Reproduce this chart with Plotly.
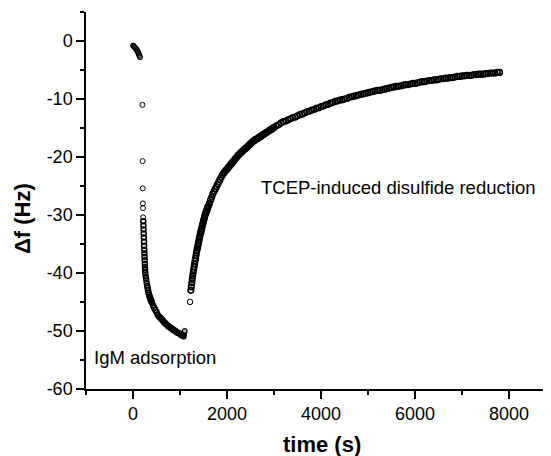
import plotly.graph_objects as go

# ---- data ----
# IgM adsorption phase (time in s, frequency shift in Hz)
ads_t = [0, 10, 20, 30, 40, 50, 60, 70, 80, 90, 100, 110, 120, 130, 140, 150,
         200, 203, 206, 209, 212, 215, 218, 221, 224, 227, 230, 233, 236, 239,
         242, 245, 248, 251, 254, 257, 260,
         270, 280, 290, 300, 310, 320, 330, 340, 350, 360, 370, 380, 390, 400,
         425, 450, 475, 500, 525, 550, 575, 600, 625, 650, 675, 700, 725, 750,
         775, 800, 825, 850, 875, 900, 925, 950, 975, 1000, 1025, 1050, 1075,
         1085, 1095, 1100]
ads_df = [-0.8, -0.8, -0.9, -1.0, -1.1, -1.2, -1.3, -1.4, -1.5, -1.7, -1.8, -2.0, -2.2, -2.4, -2.6, -2.8,
          -11.0, -20.7, -25.4, -28.0, -28.8, -30.4, -31.1, -31.8, -32.5, -33.2, -33.9, -34.6, -35.3, -36.0,
          -36.6, -37.2, -37.8, -38.4, -39.0, -39.5, -40.0,
          -40.6, -41.1, -41.7, -42.2, -42.6, -43.0, -43.4, -43.7, -44.0, -44.2, -44.5, -44.7, -44.9, -45.1,
          -45.6, -46.0, -46.4, -46.8, -47.2, -47.5, -47.7, -47.9, -48.1, -48.4, -48.6, -48.8, -49.0, -49.2,
          -49.3, -49.5, -49.6, -49.8, -49.9, -50.0, -50.2, -50.3, -50.4, -50.5, -50.7, -50.8, -50.9,
          -50.6, -50.2, -50.0]

# TCEP-induced disulfide reduction phase
red_t = [1213,
         1230, 1240, 1250, 1260, 1270, 1280, 1290, 1300, 1310, 1320, 1330, 1340, 1350,
         1360, 1370, 1380, 1390, 1400, 1410, 1420, 1430, 1440, 1450, 1460, 1470, 1480,
         1490, 1500, 1510, 1520, 1530, 1540, 1550, 1560, 1570, 1580, 1590, 1600,
         1625, 1650, 1675, 1700, 1725, 1750, 1775, 1800, 1825, 1850, 1875, 1900,
         1925, 1950, 1975, 2000, 2025, 2050, 2075, 2100, 2125, 2150, 2175, 2200, 2225,
         2250, 2275, 2300, 2325, 2350, 2375, 2400, 2425, 2450, 2475, 2500, 2525, 2550,
         2575, 2600, 2625, 2650, 2675, 2700, 2725, 2750, 2775, 2800, 2825, 2850, 2875,
         2900, 2925, 2950, 2975, 3000,
         3050, 3100, 3150, 3200, 3250, 3300, 3350, 3400, 3450, 3500, 3550, 3600, 3650, 3700,
         3750, 3800, 3850, 3900, 3950, 4000, 4050, 4100, 4150, 4200, 4250, 4300, 4350,
         4400, 4450, 4500, 4550, 4600, 4650, 4700, 4750, 4800, 4850, 4900,
         4950, 5000, 5050, 5100, 5150, 5200, 5250, 5300, 5350, 5400, 5450, 5500, 5550, 5600,
         5650, 5700, 5750, 5800, 5850, 5900, 5950, 6000, 6050, 6100, 6150, 6200, 6250, 6300,
         6350, 6400, 6450, 6500, 6550, 6600, 6650, 6700, 6750, 6800, 6850, 6900, 6950, 7000,
         7050, 7100, 7150, 7200, 7250, 7300, 7350, 7400, 7450, 7500, 7550, 7600, 7650, 7700,
         7750, 7800]
red_df = [-45.0,
          -43.0, -42.4, -41.7, -41.1, -40.5, -39.9, -39.4, -38.9, -38.4, -37.9, -37.5, -37.0, -36.5,
          -36.1, -35.7, -35.3, -34.9, -34.5, -34.1, -33.7, -33.3, -33.0, -32.7, -32.4, -32.0, -31.7,
          -31.4, -31.0, -30.7, -30.4, -30.1, -29.8, -29.6, -29.4, -29.2, -29.0, -28.7, -28.5,
          -28.0, -27.4, -26.9, -26.3, -25.9, -25.5, -25.1, -24.7, -24.3, -23.9, -23.5, -23.1,
          -22.8, -22.6, -22.3, -22.1, -21.8, -21.6, -21.3, -21.1, -20.8, -20.6, -20.3, -20.1, -19.8,
          -19.6, -19.4, -19.2, -19.0, -18.8, -18.6, -18.5, -18.3, -18.1, -17.9, -17.7, -17.5, -17.3,
          -17.2, -17.0, -16.9, -16.8, -16.6, -16.5, -16.4, -16.2, -16.1, -16.0, -15.8, -15.7, -15.6,
          -15.4, -15.3, -15.2, -15.0, -14.9,
          -14.6, -14.4, -14.1, -13.9, -13.8, -13.6, -13.4, -13.2, -13.1, -12.9, -12.7, -12.6, -12.4, -12.2,
          -12.1, -11.9, -11.8, -11.6, -11.5, -11.3, -11.2, -11.0, -10.9, -10.7, -10.6, -10.4, -10.3,
          -10.2, -10.1, -10.0, -9.9, -9.7, -9.6, -9.5, -9.4, -9.3, -9.2, -9.1,
          -9.0, -8.9, -8.8, -8.7, -8.6, -8.5, -8.5, -8.4, -8.3, -8.2, -8.1, -8.0, -7.9, -7.8,
          -7.8, -7.7, -7.6, -7.5, -7.5, -7.4, -7.3, -7.3, -7.2, -7.1, -7.0, -7.0, -6.9, -6.8,
          -6.8, -6.7, -6.7, -6.6, -6.5, -6.5, -6.4, -6.4, -6.3, -6.3, -6.2, -6.1, -6.1, -6.0,
          -6.0, -5.9, -5.9, -5.9, -5.8, -5.8, -5.7, -5.7, -5.7, -5.6, -5.6, -5.5, -5.5, -5.5,
          -5.4, -5.4]

x_tickvals = [0, 2000, 4000, 6000, 8000]
x_ticktext = ["0", "2000", "4000", "6000", "8000"]
y_tickvals = [0, -10, -20, -30, -40, -50, -60]
y_ticktext = ["0", "-10", "-20", "-30", "-40", "-50", "-60"]

FONT = "Arial, Liberation Sans, sans-serif"

# thin outlines where circles stand apart, heavier where they pile up into a band
ads_lw = [1.0 if (v > -30.5 or t > 1080) else 1.5 for t, v in zip(ads_t, ads_df)]
red_lw = [1.0 if i == 0 else 1.7 for i in range(len(red_t))]

fig = go.Figure()
fig.add_trace(go.Scatter(
    x=ads_t, y=ads_df, mode="markers", showlegend=False,
    marker=dict(symbol="circle-open", size=5, color="black", line=dict(width=ads_lw, color="black")),
))
fig.add_trace(go.Scatter(
    x=red_t, y=red_df, mode="markers", showlegend=False,
    marker=dict(symbol="circle-open", size=5.5, color="black", line=dict(width=red_lw, color="black")),
))

axis_common = dict(
    showgrid=False, zeroline=False, showline=True, linecolor="black", linewidth=1.5,
    ticks="outside", ticklen=8, tickwidth=1.5, tickcolor="black",
    tickfont=dict(family=FONT, size=18, color="black"),
    tickmode="array",
)
fig.update_xaxes(
    **axis_common, range=[-1001, 8894], tickvals=x_tickvals, ticktext=x_ticktext,
    minor=dict(tickmode="linear", tick0=-1000, dtick=1000, ticks="outside", ticklen=4,
               tickwidth=1.5, tickcolor="black", showgrid=False),
)
fig.update_yaxes(
    **axis_common, range=[-60.02, 5.02], tickvals=y_tickvals, ticktext=y_ticktext,
    minor=dict(tickmode="linear", tick0=-60, dtick=5, ticks="outside", ticklen=4,
               tickwidth=1.5, tickcolor="black", showgrid=False),
)

fig.add_annotation(text="IgM adsorption", x=-880, y=-54.5, xref="x", yref="y",
                   xanchor="left", yanchor="middle", showarrow=False,
                   font=dict(family=FONT, size=18.5, color="black"))
fig.add_annotation(text="TCEP-induced disulfide reduction", x=2670, y=-25.2, xref="x", yref="y",
                   xanchor="left", yanchor="middle", showarrow=False,
                   font=dict(family=FONT, size=18.5, color="black"))
fig.add_annotation(text="<b>time (s)</b>", x=0.5075, y=-0.147, xref="paper", yref="paper",
                   xanchor="center", yanchor="middle", showarrow=False,
                   font=dict(family=FONT, size=22, color="black"))
fig.add_annotation(text="<b>Δf (Hz)</b>", x=-0.1355, y=0.4536, xref="paper", yref="paper",
                   xanchor="center", yanchor="middle", showarrow=False, textangle=-90,
                   font=dict(family=FONT, size=22, color="black"))

# the page body adds an 8 px offset, so the figure is 8 px smaller and shifted up/left
fig.update_layout(
    width=543, height=448,
    margin=dict(l=78, r=0, t=4, b=67),
    paper_bgcolor="white", plot_bgcolor="white",
)
fig.write_html("out.html")
